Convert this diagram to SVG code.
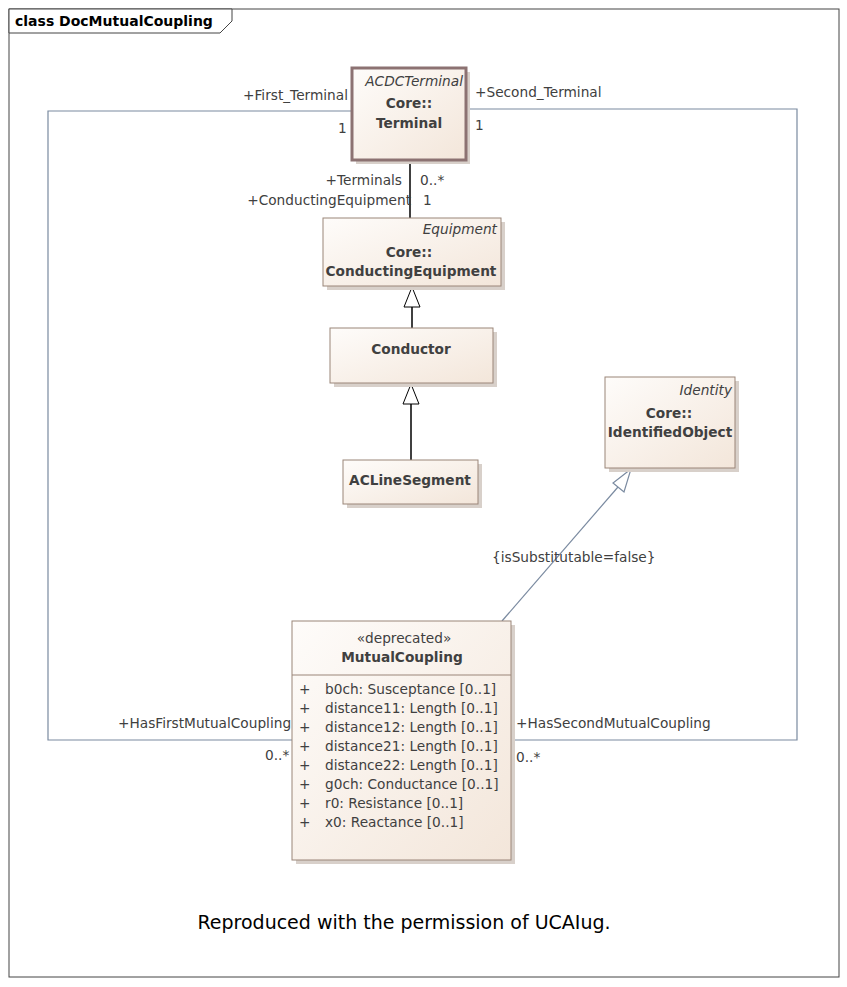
<svg xmlns="http://www.w3.org/2000/svg" width="847" height="987" viewBox="0 0 847 987">
<defs>
<linearGradient id="g" x1="0" y1="0" x2="1" y2="1"><stop offset="0" stop-color="#fefcfa"/><stop offset="1" stop-color="#f3e6da"/></linearGradient>
<style>
text{font-family:"DejaVu Sans","Noto Sans",sans-serif;fill:#404040;font-size:13.7px}
.box{fill:url(#g);stroke:#9a8578;stroke-width:1}
.sh{fill:#d8d0ca}
.b{font-weight:bold}
.i{font-style:italic}
.ln{fill:none;stroke:#7a8aa0;stroke-width:1.2}
.bl{fill:none;stroke:#000;stroke-width:1.5}
.tri{fill:#fff;stroke:#000;stroke-width:1}
</style>
</defs>
<rect width="847" height="987" fill="#fff"/>
<rect x="9" y="9" width="830" height="968" fill="none" stroke="#444"/>
<polygon points="9,9 232,9 232,21 220,33 9,33" fill="#fff" stroke="#444"/>
<text x="15" y="26" class="b" style="fill:#000;font-size:14px">class DocMutualCoupling</text>
<g id="connectors">
<polyline class="ln" points="352,111 48,111 48,740 292,740"/>
<polyline class="ln" points="466,109 797,109 797,740 511,740"/>
<line class="bl" x1="410" y1="160" x2="410" y2="218"/>
<line class="bl" x1="412" y1="307" x2="412" y2="328"/>
<polygon class="tri" points="412,287 404,307 420,307"/>
<line class="bl" x1="411" y1="404" x2="411" y2="460"/>
<polygon class="tri" points="411,384 403,404 419,404"/>
<line class="ln" x1="502" y1="621" x2="618" y2="487"/>
<polygon points="631,469 613,483 624,492" fill="#fff" stroke="#7a8aa0" stroke-width="1.2"/>
<text x="243" y="100">+First_Terminal</text>
<text x="338" y="133">1</text>
<text x="475" y="97">+Second_Terminal</text>
<text x="475" y="130">1</text>
<text x="402" y="185" text-anchor="end">+Terminals</text>
<text x="420" y="185">0..*</text>
<text x="411" y="205" text-anchor="end">+ConductingEquipment</text>
<text x="423" y="205">1</text>
<text x="492" y="562">{isSubstitutable=false}</text>
<text x="118" y="728">+HasFirstMutualCoupling</text>
<text x="265" y="760">0..*</text>
<text x="516" y="728">+HasSecondMutualCoupling</text>
<text x="516" y="762">0..*</text>
</g>
<g id="Terminal">
<rect class="sh" x="356" y="72" width="114" height="92"/>
<rect x="352" y="68" width="114" height="92" fill="url(#g)" stroke="#8c7272" stroke-width="3"/>
<text x="463" y="86" text-anchor="end" class="i">ACDCTerminal</text>
<text x="409" y="108" text-anchor="middle" class="b">Core::</text>
<text x="409" y="128" text-anchor="middle" class="b">Terminal</text>
</g>
<g id="ConductingEquipment">
<rect class="sh" x="327" y="222" width="178" height="68"/>
<rect class="box" x="323" y="218" width="178" height="68"/>
<text x="497" y="234" text-anchor="end" class="i">Equipment</text>
<text x="409" y="257" text-anchor="middle" class="b">Core::</text>
<text x="411" y="276" text-anchor="middle" class="b">ConductingEquipment</text>
</g>
<g id="Conductor">
<rect class="sh" x="334" y="332" width="163" height="55"/>
<rect class="box" x="330" y="328" width="163" height="55"/>
<text x="411" y="354" text-anchor="middle" class="b">Conductor</text>
</g>
<g id="ACLineSegment">
<rect class="sh" x="347" y="464" width="135" height="44"/>
<rect class="box" x="343" y="460" width="135" height="44"/>
<text x="410" y="485" text-anchor="middle" class="b">ACLineSegment</text>
</g>
<g id="IdentifiedObject">
<rect class="sh" x="609" y="381" width="130" height="91"/>
<rect class="box" x="605" y="377" width="130" height="91"/>
<text x="732" y="395" text-anchor="end" class="i">Identity</text>
<text x="669" y="418" text-anchor="middle" class="b">Core::</text>
<text x="670" y="437" text-anchor="middle" class="b">IdentifiedObject</text>
</g>
<g id="MutualCoupling">
<rect class="sh" x="296" y="625" width="219" height="239"/>
<rect class="box" x="292" y="621" width="219" height="239"/>
<line x1="292" y1="675" x2="511" y2="675" stroke="#9a8578"/>
<text x="404" y="643" text-anchor="middle">«deprecated»</text>
<text x="402" y="662" text-anchor="middle" class="b">MutualCoupling</text>
<g>
<text x="299" y="694">+</text><text x="325" y="694">b0ch: Susceptance [0..1]</text>
<text x="299" y="713">+</text><text x="325" y="713">distance11: Length [0..1]</text>
<text x="299" y="732">+</text><text x="325" y="732">distance12: Length [0..1]</text>
<text x="299" y="751">+</text><text x="325" y="751">distance21: Length [0..1]</text>
<text x="299" y="770">+</text><text x="325" y="770">distance22: Length [0..1]</text>
<text x="299" y="789">+</text><text x="325" y="789">g0ch: Conductance [0..1]</text>
<text x="299" y="808">+</text><text x="325" y="808">r0: Resistance [0..1]</text>
<text x="299" y="827">+</text><text x="325" y="827">x0: Reactance [0..1]</text>
</g>
</g>
<text x="404" y="929" text-anchor="middle" style="font-size:19px;fill:#000">Reproduced with the permission of UCAIug.</text>
</svg>
